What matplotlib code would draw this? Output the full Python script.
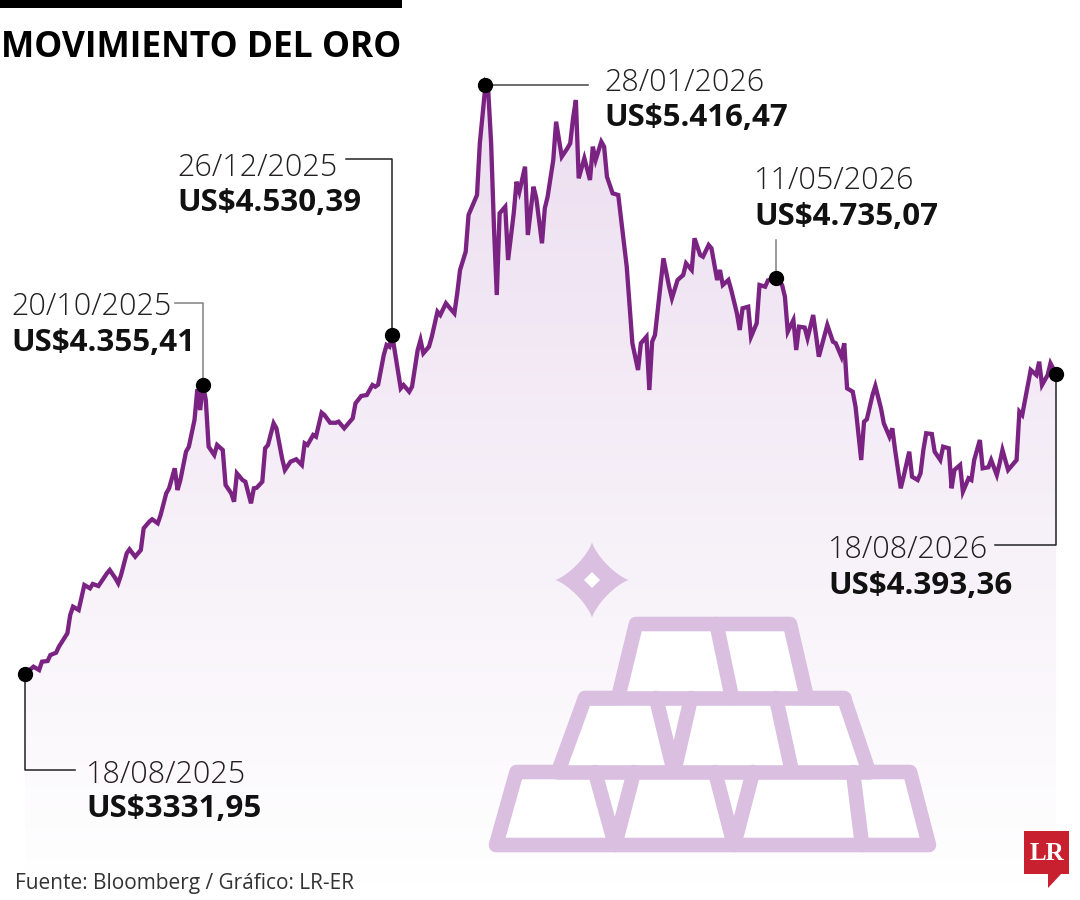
import numpy as np
import pandas as pd
import matplotlib
matplotlib.use('Agg')
import matplotlib.pyplot as plt
import matplotlib.dates as mdates
from matplotlib.transforms import Affine2D
from matplotlib.patches import Polygon, Rectangle
from matplotlib.lines import Line2D

plt.rcParams['font.family'] = ['Open Sans', 'DejaVu Sans']

# Datos: dias desde el 18/08/2025 y precio del oro (US$/onza)
inicio = pd.Timestamp('2025-08-18')
dias = [0, 3, 5, 6, 8, 9, 11, 12, 15, 16, 17, 19, 21, 23, 24, 26, 27, 29, 30, 32,
        33, 34, 36, 37, 39, 41, 42, 44, 45, 47, 48, 50, 51, 53, 54, 55, 57, 58, 59, 60,
        61, 62, 63, 64, 65, 67, 68, 70, 71, 73, 74, 75, 77, 78, 80, 81, 82, 84, 85, 86,
        88, 89, 91, 92, 94, 96, 98, 99, 100, 102, 103, 105, 106, 108, 110, 111, 113, 116, 117, 119,
        121, 123, 124, 125, 127, 128, 129, 130, 133, 134, 136, 137, 139, 140, 141, 143, 144, 146, 147, 149,
        150, 152, 153, 154, 156, 157, 159, 160, 161, 163, 164, 165, 166, 167, 168, 170, 171, 173, 174, 175,
        177, 178, 180, 181, 183, 184, 185, 187, 188, 190, 192, 193, 194, 195, 196, 198, 200, 201, 202, 204,
        205, 206, 208, 210, 213, 215, 217, 218, 220, 221, 222, 223, 225, 226, 228, 229, 231, 233, 234, 236,
        237, 239, 240, 242, 243, 245, 246, 247, 249, 250, 252, 253, 254, 256, 257, 259, 260, 262, 263, 266,
        268, 269, 270, 272, 273, 274, 276, 277, 279, 280, 281, 284, 286, 287, 289, 290, 291, 293, 294, 296,
        297, 298, 300, 301, 303, 304, 306, 307, 308, 310, 311, 313, 314, 316, 317, 318, 319, 321, 322, 324,
        325, 327, 328, 329, 331, 332, 334, 335, 336, 338, 339, 341, 342, 344, 345, 346, 348, 349, 351, 352,
        353, 355, 356, 358, 359, 360, 362, 363, 365]
precio = [3331.95, 3357.8, 3346.1, 3375.5, 3378.0, 3399.2, 3407.3, 3428.6, 3476.0, 3540.8,
          3570.1, 3558.4, 3646.9, 3635.2, 3650.5, 3643.4, 3658.6, 3688.3, 3700.0, 3670.6,
          3653.0, 3682.3, 3759.1, 3773.3, 3747.1, 3770.8, 3847.6, 3871.0, 3879.4, 3865.3,
          3894.6, 3971.4, 3989.1, 4059.9, 3983.1, 4018.5, 4118.7, 4136.4, 4183.8, 4230.9,
          4340.0, 4266.2, 4355.41, 4301.6, 4136.4, 4107.0, 4142.4, 4124.7, 4000.8, 3971.4,
          3941.7, 4042.2, 4018.5, 4012.5, 3936.0, 3989.1, 3991.0, 4012.5, 4130.7, 4142.4,
          4219.2, 4201.5, 4095.3, 4053.9, 4083.3, 4091.8, 4071.6, 4148.4, 4142.4, 4177.8,
          4171.8, 4256.7, 4248.6, 4221.3, 4221.0, 4225.0, 4201.5, 4236.9, 4290.0, 4315.8,
          4319.3, 4354.7, 4348.7, 4356.0, 4460.9, 4496.3, 4490.3, 4530.39, 4343.0, 4354.7,
          4331.0, 4348.7, 4478.6, 4513.9, 4466.9, 4490.3, 4525.6, 4614.1, 4602.4, 4643.9,
          4631.8, 4608.5, 4679.2, 4761.7, 4826.5, 4956.4, 5003.4, 5027.1, 5210.1, 5416.47,
          5392.7, 5210.1, 4914.9, 4673.2, 4962.4, 4985.7, 4797.1, 4962.4, 5074.2, 5038.8,
          5127.3, 4885.6, 5056.5, 5015.5, 4856.2, 4980.1, 5021.1, 5151.0, 5286.5, 5162.7,
          5192.4, 5210.1, 5298.5, 5363.3, 5086.2, 5157.0, 5080.2, 5198.1, 5151.0, 5215.7,
          5198.1, 5091.9, 5033.1, 5027.1, 4773.4, 4502.3, 4407.8, 4502.3, 4525.6, 4337.0,
          4508.0, 4531.7, 4714.6, 4803.1, 4702.6, 4661.5, 4726.3, 4744.0, 4785.4, 4761.7,
          4873.9, 4814.8, 4808.8, 4850.2, 4838.5, 4726.3, 4761.7, 4708.6, 4726.3, 4690.9,
          4608.5, 4549.4, 4626.2, 4631.8, 4525.6, 4573.1, 4708.6, 4702.6, 4725.0, 4735.07,
          4708.6, 4667.2, 4543.4, 4584.8, 4478.6, 4561.1, 4558.0, 4520.0, 4602.4, 4531.7,
          4454.9, 4567.1, 4508.0, 4502.3, 4454.9, 4502.3, 4343.0, 4331.0, 4277.9, 4089.3,
          4224.8, 4233.3, 4319.3, 4351.2, 4272.3, 4219.2, 4171.8, 4201.5, 4124.7, 3989.1,
          4030.2, 4118.7, 4030.2, 4018.5, 4042.2, 4124.7, 4183.8, 4181.3, 4118.7, 4089.3,
          4136.4, 4130.7, 3989.1, 4053.9, 4071.6, 3977.1, 4024.5, 4018.5, 4089.3, 4160.1,
          4059.9, 4063.5, 4089.3, 4036.2, 4077.6, 4124.7, 4053.9, 4065.6, 4089.3, 4260.2,
          4248.6, 4354.7, 4407.8, 4390.1, 4437.2, 4354.7, 4390.1, 4431.5, 4393.36]

# puntos destacados
anot_dias = [0, 63, 130, 163, 266, 365]
anot_fechas = ['18/08/2025', '20/10/2025', '26/12/2025', '28/01/2026', '11/05/2026', '18/08/2026']
anot_valores = ['US$3331,95', 'US$4.355,41', 'US$4.530,39', 'US$5.416,47', 'US$4.735,07', 'US$4.393,36']

W, H = 1080, 900
fig = plt.figure(figsize=(10.8, 9), dpi=100)
ax = fig.add_axes([0, 0, 1, 1])
ax.axis('off')
# pixeles con origen arriba a la izquierda
px = Affine2D().scale(1 / W, -1 / H).translate(0, 1) + fig.transFigure

fechas = mdates.date2num((inicio + pd.to_timedelta(dias, unit='D')).to_numpy())
x0 = mdates.date2num(inicio.to_datetime64())
ppd = 2.825     # pixeles por dia
ppv = 1 / 3.539  # pixeles por dolar
def val(py):
    return 3331.95 + (674 - py) / ppv

xlim = (x0 - 25 / ppd, x0 + (W - 25) / ppd)
ylim = (val(H), val(0))

# relleno degradado bajo la linea
base = val(885)
poly = ax.fill_between(fechas, precio, base, facecolor='none', edgecolor='none')
g = np.linspace(0, 1, 256)[:, None, None]
c_top = np.array([236, 222, 240]) / 255
img = c_top * (1 - g) + np.ones(3) * g
im = ax.imshow(img, extent=[x0, x0 + 365, base, val(80)], origin='upper',
               aspect='auto', interpolation='bilinear', zorder=1)
im.set_clip_path(poly.get_paths()[0], ax.transData)

# icono de lingotes
lav = '#dabfe0'
sil = [(636, 624), (790, 624), (807, 698), (844, 698), (869, 772), (910, 772), (929, 845),
       (496, 845), (516.5, 772), (558, 772), (585, 698), (618, 698)]
ax.add_patch(Polygon(sil, closed=True, facecolor='white', edgecolor=lav, lw=10.5,
                     joinstyle='round', transform=px, zorder=2))
segs = [[(585, 698), (844, 698)], [(558, 772), (869, 772)],
        [(716.5, 624), (732, 698)],
        [(656, 698), (674, 772), (691, 698)], [(776, 698), (792, 772)],
        [(595, 772), (615, 845), (634, 772)], [(715, 772), (734, 845), (753, 772)],
        [(853, 772), (862, 845)]]
for s in segs:
    xs, ys = zip(*s)
    ax.add_line(Line2D(xs, ys, color=lav, lw=10.5, solid_joinstyle='round',
                       solid_capstyle='round', transform=px, zorder=2))
t = np.linspace(0, 2 * np.pi, 300)
p = 2.6
sx = 592 + 37 * np.sign(np.cos(t)) * np.abs(np.cos(t)) ** p
sy = 580 + 38 * np.sign(np.sin(t)) * np.abs(np.sin(t)) ** p
ax.add_patch(Polygon(np.c_[sx, sy], facecolor=lav, edgecolor='none', transform=px, zorder=2))
ax.add_patch(Polygon([(592, 572), (600, 580), (592, 588), (584, 580)], facecolor='white',
                     edgecolor='none', transform=px, zorder=2))

# linea del precio
ax.plot(fechas, precio, color='#7b2382', lw=3.1, solid_joinstyle='miter', zorder=4)

ax.set_xlim(*xlim)
ax.set_ylim(*ylim)

# marcadores y anotaciones
idx = [dias.index(d) for d in anot_dias]
mx = fechas[idx]
my = np.array(precio)[idx]
ax.plot(mx, my, 'o', color='black', ms=10, zorder=5)

disp = ax.transData.transform(np.c_[mx, my])
mpx = [(dx, H - dy) for dx, dy in disp]

# (x texto, base fecha, base valor)
pos_txt = [(86, 783, 817), (11, 315, 351), (177, 176, 211),
           (604, 91, 126), (754, 189, 225), (828, 558, 594)]
codos = [[(0, 770), (75, 770)], [(0, 303), (175, 303)], [(0, 159), (346, 159)],
         [(588, None)], [(0, 240)], [(0, 545), (995, 545)]]
col_lin = ['#222222', '#808080', '#222222', '#444444', '#808080', '#222222']

for i in range(len(anot_dias)):
    mxp, myp = mpx[i]
    pts = [(mxp, myp)]
    for cx, cy in codos[i]:
        if cy is None:
            pts.append((cx, myp))
        elif cx == 0:
            pts.append((mxp, cy))
        else:
            pts.append((cx, cy))
    xs, ys = zip(*pts)
    ax.add_line(Line2D(xs, ys, color=col_lin[i], lw=1.1, transform=px, zorder=3))
    tx, by1, by2 = pos_txt[i]
    ax.text(tx, by1, anot_fechas[i], fontsize=22, fontweight='light', color='#231f20',
            transform=px, va='baseline', ha='left', zorder=6)
    ax.text(tx, by2, anot_valores[i], fontsize=22.5, fontweight='bold', color='#111111',
            transform=px, va='baseline', ha='left', zorder=6)

# titulo y barra
ax.add_patch(Rectangle((0, 0), 402, 7.5, facecolor='black', edgecolor='none', transform=px, zorder=6))
ax.text(1, 57, 'MOVIMIENTO DEL ORO', fontsize=25.5, fontweight='bold', color='black',
        transform=px, va='baseline', ha='left', zorder=6)

# fuente
ax.text(15, 889, 'Fuente: Bloomberg / Gráfico: LR-ER', fontsize=15, color='#333333',
        transform=px, va='baseline', ha='left', zorder=6)

# logo LR
rojo = '#c8202f'
ax.add_patch(Rectangle((1024, 831), 45, 43, facecolor=rojo, edgecolor='none', transform=px, zorder=6))
ax.add_patch(Polygon([(1048, 873), (1062, 873), (1048, 888)], facecolor=rojo,
                     edgecolor='none', transform=px, zorder=6))
ax.text(1046.5, 853, 'LR', color='white', fontsize=18, fontweight='bold',
        family=['Liberation Serif', 'DejaVu Serif'], ha='center', va='center',
        transform=px, zorder=7)

fig.savefig('out.png', dpi=100)
